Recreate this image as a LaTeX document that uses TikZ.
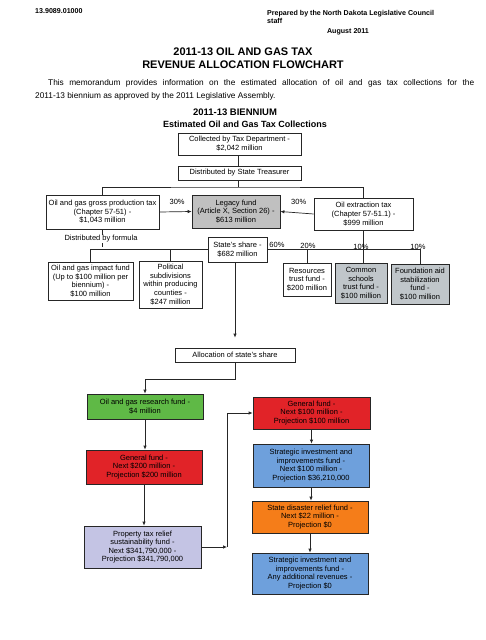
\documentclass[tikz,border=0pt]{standalone}
\usepackage{fontspec}
\setmainfont{Liberation Sans}
\usetikzlibrary{arrows.meta}
\definecolor{grn}{RGB}{95,185,70}
\definecolor{rd}{RGB}{225,35,40}
\definecolor{lav}{RGB}{196,196,228}
\definecolor{blu}{RGB}{110,160,220}
\definecolor{org}{RGB}{245,125,25}
\definecolor{gry}{RGB}{192,192,192}
\definecolor{gry2}{RGB}{192,198,202}
\begin{document}
\begin{tikzpicture}[x=1pt,y=-1pt,
 bx/.style={draw=black!85,line width=0.7pt,align=center,inner sep=1pt,font=\fontsize{7.5}{8.6}\selectfont},
 arr/.style={-{Latex[length=4pt,width=3.5pt]}},
 ln/.style={draw=black!85,line width=0.7pt},
 pct/.style={font=\fontsize{7.5}{9}\selectfont,inner sep=0pt},
 hdr/.style={font=\fontsize{7.1}{8}\selectfont\bfseries,inner sep=0pt,align=left}
]
\useasboundingbox (0,0) rectangle (485,640);
\fill[white] (0,0) rectangle (485,640);

% header
\node[hdr,anchor=west] (docno) at (35,11) {13.9089.01000};
\node[hdr,anchor=north west] (prep) at (267,10.5) {Prepared by the North Dakota Legislative Council\\staff};
\node[hdr] (date) at (348,32) {August 2011};
\node[font=\fontsize{11}{13}\selectfont\bfseries,align=center,inner sep=0pt] (title) at (243,58.5) {2011-13 OIL AND GAS TAX\\REVENUE ALLOCATION FLOWCHART};
\node[font=\fontsize{8.3}{10}\selectfont,anchor=west,inner sep=0pt] (memo1) at (48,83) {\makebox[426pt][s]{This memorandum provides information on the estimated allocation of oil and gas tax collections for the}};
\node[font=\fontsize{8.3}{10}\selectfont,anchor=west,inner sep=0pt] (memo2) at (35,96) {2011-13 biennium as approved by the 2011 Legislative Assembly.};
\node[font=\fontsize{9.5}{11}\selectfont\bfseries,inner sep=0pt] (bien) at (235,112) {2011-13 BIENNIUM};
\node[font=\fontsize{9}{11}\selectfont\bfseries,inner sep=0pt] (est) at (245,124) {Estimated Oil and Gas Tax Collections};

% boxes
\node[bx,minimum width=123pt,minimum height=22pt] (collected) at (239.5,144) {Collected by Tax Department -\\\$2,042 million};
\node[bx,minimum width=123pt,minimum height=14pt] (distrib) at (239.5,173) {Distributed by State Treasurer};
\node[bx,minimum width=113pt,minimum height=34pt] (gross) at (102.5,212) {Oil and gas gross production tax\\(Chapter 57-51) -\\\$1,043 million};
\node[bx,fill=gry,minimum width=88pt,minimum height=33pt] (legacy) at (236,211.5) {Legacy fund\\(Article X, Section 26) -\\\$613 million};
\node[bx,minimum width=99pt,minimum height=32pt] (oilext) at (363.5,214) {Oil extraction tax\\(Chapter 57-51.1) -\\\$999 million};
\node[bx,minimum width=59pt,minimum height=25pt] (state) at (237.5,249.5) {State's share -\\\$682 million};
\node[bx,minimum width=85pt,minimum height=38pt] (impact) at (90.5,281) {Oil and gas impact fund\\(Up to \$100 million per\\biennium) -\\\$100 million};
\node[bx,minimum width=63pt,minimum height=47pt] (political) at (170.5,284.5) {Political\\subdivisions\\within producing\\counties -\\\$247 million};
\node[bx,minimum width=48pt,minimum height=33pt] (resources) at (307,279.5) {Resources\\trust fund -\\\$200 million};
\node[bx,fill=gry2,minimum width=52pt,minimum height=40pt] (common) at (361,283) {Common\\schools\\trust fund -\\\$100 million};
\node[bx,fill=gry2,minimum width=58pt,minimum height=40pt] (foundation) at (420,284) {Foundation aid\\stabilization\\fund -\\\$100 million};
\node[bx,minimum width=120pt,minimum height=14pt] (alloc) at (235,355) {Allocation of state's share};
\node[bx,fill=grn,minimum width=116pt,minimum height=25pt] (research) at (145,406.5) {Oil and gas research fund -\\\$4 million};
\node[bx,fill=rd,minimum width=116pt,minimum height=34pt] (gen1) at (144,467) {General fund -\\Next \$200 million -\\Projection \$200 million};
\node[bx,fill=lav,minimum width=117pt,minimum height=42pt] (property) at (142.5,547) {Property tax relief\\sustainability fund -\\Next \$341,790,000 -\\Projection \$341,790,000};
\node[bx,fill=rd,minimum width=117pt,minimum height=32pt] (gen2) at (311.5,413) {General fund -\\Next \$100 million -\\Projection \$100 million};
\node[bx,fill=blu,minimum width=116pt,minimum height=43pt] (strat1) at (311,465.5) {Strategic investment and\\improvements fund -\\Next \$100 million -\\Projection \$36,210,000};
\node[bx,fill=org,minimum width=116pt,minimum height=32pt] (disaster) at (310,517) {State disaster relief fund -\\Next \$22 million -\\Projection \$0};
\node[bx,fill=blu,minimum width=116pt,minimum height=41pt] (strat2) at (310,573.5) {Strategic investment and\\improvements fund -\\Any additional revenues -\\Projection \$0};

% connectors top
\coordinate (busT) at (238,187);
\draw[ln] (collected.south -| busT) -- (distrib.north -| busT);
\draw[ln] (distrib.south -| busT) -- (busT);
\draw[ln] (gross.north) |- (busT) -| (oilext.north);
\draw[ln,arr] (gross.east) -- (legacy.west) node[pct,pos=0.55,above=7pt] (p30a) {30\%};
\draw[ln,arr] (oilext.west) -- (legacy.east) node[pct,pos=0.45,above=8pt] (p30b) {30\%};

% distributed by formula
\coordinate (busF) at (102.5,247);
\draw[ln] (gross.south) -- (busF);
\node[font=\fontsize{7.5}{9}\selectfont,fill=white,inner sep=1pt] (formula) at (101,239) {Distributed by formula};
\draw[ln] (impact.north) |- (state.west);
\draw[ln] (political.north) -- (political.north |- state.west);

% oil extraction split
\draw[ln] (oilext.south) -- (oilext.south |- state.east);
\draw[ln] (state.east) -- (foundation.north |- state.east) -- (foundation.north);
\draw[ln] (resources.north) -- (resources.north |- state.east);
\draw[ln] (common.north -| oilext.south) -- (oilext.south |- state.east);
\node[pct] (p60) at (277,245) {60\%};
\node[pct] (p20) at (308,245.5) {20\%};
\node[pct] (p10a) at (361,246.5) {10\%};
\node[pct] (p10b) at (418,247) {10\%};

% allocation
\draw[ln,arr,shorten >=10pt] (state.south -| alloc.north) -- (alloc.north);
\draw[ln,arr] (alloc.south) -- ++(0,17) -| (research.north);
\draw[ln,arr] (research.south) -- (research.south |- gen1.north);
\draw[ln,arr] (gen1.south) -- (gen1.south |- property.north);
\coordinate (corner) at (227,547);
\draw[ln,arr] (property.east) -- (corner);
\draw[ln,arr] (corner) |- (gen2.west);
\draw[ln,arr] (gen2.south) -- (gen2.south |- strat1.north);
\draw[ln,arr] (strat1.south) -- (strat1.south |- disaster.north);
\draw[ln,arr] (disaster.south) -- (disaster.south |- strat2.north);
\end{tikzpicture}
\end{document}
